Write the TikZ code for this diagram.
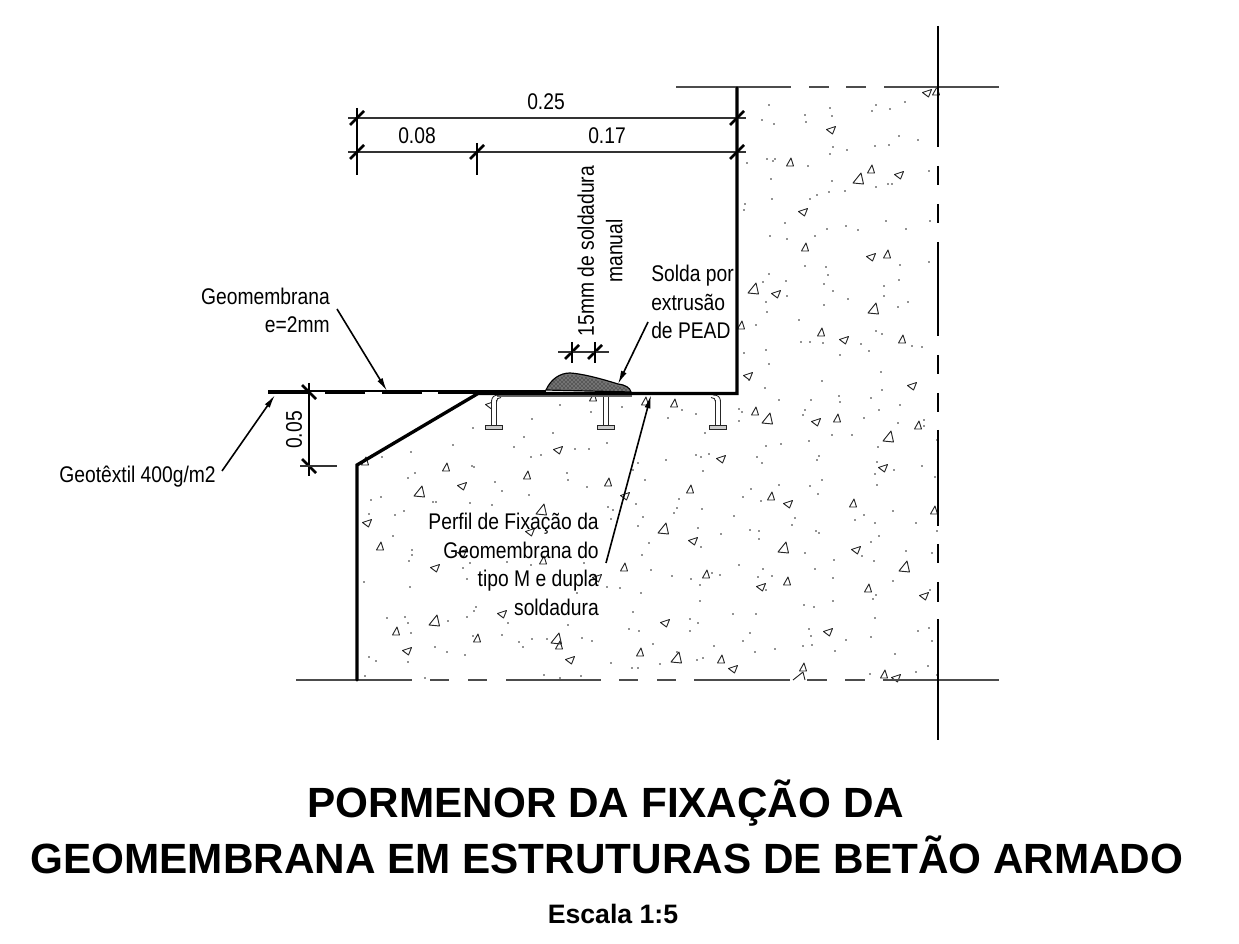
\documentclass[tikz,border=0pt]{standalone}
\usepackage{fontspec}
\usepackage{tikz}
\usetikzlibrary{arrows.meta, patterns}
\setmainfont{Liberation Sans}
\newfontfamily\narrowfont[FakeStretch=0.85]{Liberation Sans}

\tikzset{
    wall/.style={line width=2.5pt, line cap=round, line join=miter},
    axisline/.style={black!70, line width=1.3pt},
    axisvert/.style={black, line width=1.2pt},
    dimline/.style={black!80, line width=1.2pt},
    dimtick/.style={black, line width=2pt},
    extline/.style={black, line width=1pt},
    leader/.style={black, line width=1.2pt, -{Latex[length=10pt,width=4.5pt]}},
    agg/.style={black!85, line width=.7pt, line join=round},
    dimlabel/.style={font=\narrowfont\fontsize{17}{21.4}\selectfont, inner sep=0pt, black},
    titlelabel/.style={font=\bfseries\fontsize{31.7}{38}\selectfont, inner sep=0pt, black, anchor=base},
}

\begin{document}
\begin{tikzpicture}[x=0.75pt, y=-0.75pt]
    \useasboundingbox (0,0) rectangle (1239,944);

    % Aggregate dots
    \foreach \x/\y in {769/105,762/120,774/124,805/115,806/122,830/108,832/116,876/105,872/111,890/109,905/102,899/136,918/140,875/146,889/145,847/150,833/147,830/154,747/163,767/159,773/161,775/159,808/166,929/171,771/179,832/181,876/187,888/184,892/184,845/191,829/192,817/195,810/199,772/199,745/204,744/210,785/223,886/221,930/221,846/226,827/229,858/230,906/229,815/236,770/236,787/239,929/262,900/265,805/266,826/267,828/275,769/274,786/281,763/282,899/280,824/284,884/286,833/291,787/296,884/296,848/299,766/302,908/302,824/305,898/307,767/312,799/320,756/325,876/331,882/334,801/342,810/342,823/343,861/344,912/346,922/347,869/351,766/350,744/353,840/355,769/364,881/372,
    749/380,765/388,822/381,882/390,839/396,840/402,871/398,779/400,811/400,900/405,805/410,803/415,879/410,739/409,742/412,682/410,696/414,668/418,739/421,864/418,898/423,924/420,924/426,832/435,852/435,705/433,809/441,766/446,781/444,878/447,937/440,696/455,701/457,709/454,757/457,666/460,762/463,819/456,817/460,877/462,894/470,922/466,875/474,703/471,935/477,822/480,810/486,877/485,779/485,751/489,818/494,743/497,761/501,679/499,677/508,674/513,702/509,734/516,893/511,864/515,795/518,855/520,875/523,916/523,792/525,698/528,750/530,759/531,937/531,816/531,819/533,721/534,879/536,759/539,871/542,701/547,906/551,805/553,932/553,862/556,834/560,874/561,739/565,815/569,763/569,712/573,720/575,672/576,772/576,758/577,691/579,833/578,893/581,700/585,766/590,930/590,876/595,873/599,700/601,833/601,804/605,814/607,733/614,756/614,875/618,690/619,698/623,809/629,918/631,929/628,690/631,811/636,871/637,750/633,846/640,932/641,743/641,803/646,812/645,714/646,775/649,755/652,835/651,895/654,677/652,703/658,697/660,660/664,928/666,916/672,870/674,937/675,
    473/428,532/419,560/405,591/412,622/407,524/437,553/433,607/443,453/445,514/447,575/449,589/449,411/452,382/457,541/455,531/457,472/466,474/467,638/463,415/473,408/478,567/473,568/480,633/470,645/480,495/482,587/487,502/491,529/495,371/500,381/497,433/502,436/502,470/503,492/505,636/504,608/507,613/510,369/514,395/515,404/511,611/519,643/517,638/526,393/536,649/543,412/550,412/555,409/561,642/555,507/562,531/565,584/563,463/568,470/563,651/570,467/579,364/582,410/587,607/587,620/588,577/593,641/593,476/607,474/611,633/612,387/618,405/617,467/617,408/623,448/621,508/623,568/625,629/629,411/633,639/631,502/635,532/639,519/642,523/647,473/636,547/639,582/638,592/641,653/644,435/647,447/652,465/655,369/657,376/661,408/662,611/663,632/668,638/668,544/675,560/678,581/676,425/678,365/676}
        \fill[black!85] (\x,\y) circle (.6pt);

    % Aggregate triangles
    \foreach \x/\y in {936/91,790/162,871/169,805/247,887/254,821/332,902/339,741/325,674/403,755/411,837/418,918/425,690/489,771/496,853/503,934/510,706/574,787/581,868/588,721/659,803/667,884/674,446/467,527/475,608/482,380/546,543/560,624/567,396/631,477/638,559/645,640/652,593/397,645/401,365/461}
        \draw[agg, shift={(\x,\y)}] (1,-4) -- (-3.5,4) -- (3.5,4) -- cycle;
    \foreach \x/\y in {858/179,753/289,873/309,767/419,888/437,663/529,783/548,904/567,676/658,419/492,541/510,434/621,556/639}
        \draw[agg, shift={(\x,\y)}] (3,-6) -- (-5,4) -- (5.5,5) -- cycle;
    \foreach \x/\y in {927/93,831/130,899/175,803/212,871/257,776/294,844/340,748/376,912/386,816/422,721/459,883/468,788/504,693/541,856/550,761/587,924/596,665/623,828/632,733/669,896/678,558/450,462/486,625/496,367/523,530/532,462/553,435/568,597/578,502/614,407/651,570/660,490/405}
        \draw[agg, shift={(\x,\y)}] (-4.5,-.5) -- (4.5,-3.5) -- (1.5,4) -- cycle;
    \draw[agg] (793,680) -- (803,672) -- (805,680);

    % Axis lines
    \foreach \a/\b in {676/791,809/829,846/866,884/999}
        \draw[axisline] (\a,87) -- (\b,87);
    \foreach \a/\b in {296/412,430/449,468/487,506/601,619/638,657/676,694/790,807/827,845/865,883/999}
        \draw[axisline] (\a,680) -- (\b,680);
    \foreach \a/\b in {26/147,166/185,204/223,242/336,355/374,393/412,430/526,544/563,582/602,619/740}
        \draw[axisvert] (938,\a) -- (938,\b);

    % Fixing profile
    \draw[black!60, line width=1.6pt] (497,396) -- (632,396);
    \foreach \a in {494,606,718} {
        \fill[white] (\a-2.5,400) rectangle (\a+2.5,426);
        \draw[black!85, line width=.6pt] (\a-2.5,400) -- (\a-2.5,425) (\a+2.5,400) -- (\a+2.5,425);
        \draw[black!85, fill=black!20, line width=.7pt] (\a-8.5,425.5) rectangle (\a+8.5,429);
    }
    \draw[black!85, line width=.6pt] (491.5,402) .. controls (491.5,397) and (494,395) .. (499,395);
    \draw[black!85, line width=.6pt] (496.5,402) .. controls (496.5,399) and (498,397.5) .. (501,397.5);
    \draw[black!85, line width=.6pt] (603.5,397) -- (603.5,400) (608.5,397) -- (608.5,400);
    \draw[black!85, line width=.6pt] (720.5,402) .. controls (720.5,397) and (718,395) .. (713,395);
    \draw[black!85, line width=.6pt] (715.5,402) .. controls (715.5,399) and (714,397.5) .. (711,397.5);

    % Concrete outline
    \draw[wall] (737,88) -- (737,393.5) -- (478,393.5) -- (357,465) -- (357,680);

    % Geomembrane
    \draw[black, line width=1.2pt] (268,391) -- (546,391);
    \foreach \a/\b in {268/309,325/365,382/422,438/478}
        \draw[black, line width=3pt] (\a,392) -- (\b,392);

    % Weld
    \draw[black, fill=black!55, line width=.9pt] (546,390) .. controls (551,379) and (560,373) .. (570,373)
        .. controls (585,374) and (605,380) .. (618,384) .. controls (626,385) and (630,388) .. (631,392) -- cycle;
    \fill[pattern=crosshatch dots, pattern color=black] (548,389) .. controls (553,380) and (560,375) .. (570,375)
        .. controls (585,376) and (605,382) .. (618,386) .. controls (624,387) and (628,389) .. (629,391) -- cycle;

    % Dimensions
    \draw[dimline] (348,118) -- (746,118);
    \draw[dimline] (348,152) -- (746,152);
    \draw[extline] (357,108) -- (357,175);
    \draw[extline] (477,143) -- (477,175);
    \foreach \x/\y in {357/118,357/152,477/152,737/118,737/152,572/352,595/352}
        \draw[dimtick] (\x-7,\y+7) -- (\x+7,\y-7);
    \foreach \x/\y in {309/392,309/466}
        \draw[dimtick] (\x-7,\y-7) -- (\x+7,\y+7);
    \draw[extline] (309,383) -- (309,476);
    \draw[dimline] (300,466) -- (337,466);
    \draw[dimline] (558,352) -- (609,352);
    \draw[extline] (572,342) -- (572,363);
    \draw[extline] (595,342) -- (595,363);

    \node[dimlabel] (dimtotal) at (546,102) {0.25};
    \node[dimlabel] (dimleft) at (417,136) {0.08};
    \node[dimlabel] (dimright) at (607,136) {0.17};
    \node[dimlabel, rotate=90] (dimdepth) at (294,430) {0.05};

    % Annotations
    \node[dimlabel, align=center, rotate=90] (weldwidth) at (600,251) {15mm de soldadura\\manual};
    \node[dimlabel, align=left, anchor=west] (welding) at (651,302) {Solda por\\extrusão\\de PEAD};
    \node[dimlabel, align=right, anchor=east] (geomem) at (330,310.5) {Geomembrana\\e=2mm};
    \node[dimlabel, anchor=east] (geotex) at (216,477) {Geotêxtil 400g/m2};
    \node[dimlabel, align=right, anchor=east] (profile) at (599,564.5) {Perfil de Fixação da\\Geomembrana do\\tipo M e dupla\\soldadura};

    % Leaders
    \coordinate (geomstart) at (337,309);
    \coordinate (geomtip) at (387,391);
    \coordinate (geotexstart) at (222,471);
    \coordinate (geotextip) at (275,395);
    \coordinate (weldstart) at (648,322);
    \coordinate (weldtip) at (618,384);
    \coordinate (profilestart) at (606,563);
    \coordinate (profiletip) at (651,395);
    \draw[leader] (geomstart) -- (geomtip);
    \draw[leader] (geotexstart) -- (geotextip);
    \draw[leader] (weldstart) -- (weldtip);
    \draw[leader] (profilestart) -- (profiletip);

    % Title
    \node[titlelabel] (titleone) at (606,817) {PORMENOR DA FIXAÇÃO DA};
    \node[titlelabel] (titletwo) at (607,873) {GEOMEMBRANA EM ESTRUTURAS DE BETÃO ARMADO};
    \node[font=\bfseries\fontsize{20}{24}\selectfont, inner sep=0pt] (scalelabel) at (613,914) {Escala 1:5};
\end{tikzpicture}
\end{document}
